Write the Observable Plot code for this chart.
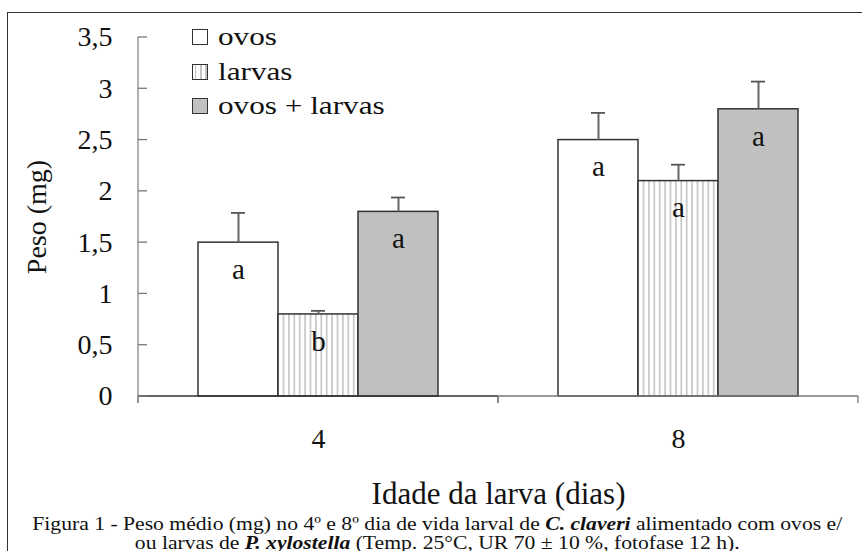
<!DOCTYPE html>
<html>
<head>
<meta charset="utf-8">
<script src="https://cdn.jsdelivr.net/npm/d3@7"></script>
<script src="https://cdn.jsdelivr.net/npm/@observablehq/plot@0.6"></script>
<style>
  html, body { margin: 0; padding: 0; background: #fff; }
  body { width: 862px; height: 551px; position: relative; overflow: hidden; font-family: "Times New Roman", serif; }
  #chart { position: absolute; left: 0; top: 0; }
  #border { position: absolute; left: 7px; top: 12px; width: 870px; height: 560px; border-top: 1.6px solid #333; border-left: 1.6px solid #333; pointer-events: none; }
  #legend { position: absolute; left: 192px; top: 20px; font-family: "Times New Roman", serif; font-size: 26px; color: #111; }
  #legend .row { display: flex; align-items: center; height: 34.5px; white-space: nowrap; }
  #legend .lab { display: inline-block; transform: scaleX(1.2); transform-origin: left center; }
  #legend .sw { width: 14px; height: 14px; border: 1.5px solid #333; margin-right: 10px; box-sizing: content-box; }
  #caption { position: absolute; left: 8px; width: 860px; top: 514px; text-align: center; font-family: "Times New Roman", serif; font-size: 19.5px; line-height: 19px; color: #111; transform: scaleX(1.11); transform-origin: 437px 0; }
</style>
</head>
<body>
<svg width="0" height="0" style="position:absolute">
  <defs>
    <pattern id="hatch" patternUnits="userSpaceOnUse" width="5.4" height="10">
      <rect width="5.4" height="10" fill="#ffffff"></rect>
      <line x1="2.7" y1="0" x2="2.7" y2="10" stroke="#c4c4c4" stroke-width="1.6"></line>
    </pattern>
  </defs>
</svg>
<div id="chart"></div>
<div id="legend"></div>
<div id="border"></div>
<div id="caption">Figura 1 - Peso médio (mg) no 4º e 8º dia de vida larval de <b><i>C. claveri</i></b> alimentado com ovos e/<br>ou larvas de <b><i>P. xylostella</i></b> (Temp. 25°C, UR 70 ± 10 %, fotofase 12 h).</div>
<script>
// ---- data ----
const days = ["4", "8"];
const treatments = ["ovos", "larvas", "ovos + larvas"];
const means4 = [1.5, 0.8, 1.8];
const means8 = [2.5, 2.1, 2.8];
const errs4 = [0.29, 0.035, 0.14];
const errs8 = [0.265, 0.16, 0.27];
const letters4 = ["a", "b", "a"];
const letters8 = ["a", "a", "a"];
const yTicks = [0, 0.5, 1, 1.5, 2, 2.5, 3, 3.5];
const yLabel = "Peso (mg)";
const xLabel = "Idade da larva (dias)";
const fills = ["#ffffff", "url(#hatch)", "#c0c0c0"];

const rows = [];
[[days[0], means4, errs4, letters4], [days[1], means8, errs8, letters8]].forEach(([day, m, e, l]) => {
  treatments.forEach((t, i) => rows.push({day, treatment: t, mean: m[i], err: e[i], letter: l[i]}));
});

const fmt = d => String(d).replace(".", ",");
const serif = "Times New Roman, serif";

// custom decorations: axis lines and ticks derived from scales/dimensions
function axisDecor(index, scales, values, dims) {
  const g = d3.create("svg:g").attr("fill", "none");
  const x0 = dims.marginLeft, x1 = dims.width - dims.marginRight;
  const y0 = scales.y(0);
  g.append("line").attr("x1", x0).attr("x2", x1).attr("y1", y0).attr("y2", y0)
    .attr("stroke", index[0] === 0 ? "#333" : "#777").attr("stroke-width", 1.3);
  [x0, x1].forEach(x => g.append("line").attr("x1", x).attr("x2", x).attr("y1", y0).attr("y2", y0 + 7)
    .attr("stroke", "#777").attr("stroke-width", 1.3));
  if (index[0] === 0) {
    const yTop = scales.y(yTicks[yTicks.length - 1]);
    g.append("line").attr("x1", x0).attr("x2", x0).attr("y1", yTop).attr("y2", y0 + 7)
      .attr("stroke", "#888").attr("stroke-width", 1.3);
    yTicks.forEach(v => {
      const y = scales.y(v);
      g.append("line").attr("x1", x0).attr("x2", x0 + 9).attr("y1", y).attr("y2", y)
        .attr("stroke", "#777").attr("stroke-width", 1.3);
    });
  }
  return g.node();
}

const chart = Plot.plot({
  width: 862,
  height: 530,
  marginLeft: 138,
  marginRight: 4,
  marginTop: 37,
  marginBottom: 134,
  style: {fontFamily: serif, color: "#111", background: "transparent"},
  fx: {domain: days, padding: 0, label: null},
  x: {domain: treatments, paddingInner: 0, paddingOuter: 0.75, axis: null},
  y: {domain: [0, 3.5], ticks: yTicks, axis: null},
  color: {domain: treatments, range: fills},
  marks: [
    Plot.axisY({anchor: "left", ticks: yTicks, tickSize: 0, tickPadding: 26, tickFormat: fmt, fontSize: 28, fontFamily: serif,
      label: yLabel, labelAnchor: "center", labelOffset: 112, labelArrow: "none"}),
    Plot.axisFx({anchor: "bottom", tickSize: 0, tickPadding: 32, fontSize: 28, fontFamily: serif, label: null}),
    Plot.axisFx({anchor: "bottom", ticks: [], tickSize: 0, fontSize: 31, fontFamily: serif, label: xLabel, labelAnchor: "center", labelOffset: 107, labelArrow: "none"}),
    Plot.barY(rows, {fx: "day", x: "treatment", y: "mean", fill: "treatment", stroke: "#333", strokeWidth: 1.5}),
    Plot.ruleX(rows, {fx: "day", x: "treatment", y1: "mean", y2: d => d.mean + d.err, stroke: "#666", strokeWidth: 2}),
    Plot.tickY(rows, {fx: "day", x: "treatment", y: d => d.mean + d.err, stroke: "#555", strokeWidth: 1.8, insetLeft: 33, insetRight: 33}),
    Plot.text(rows, {fx: "day", x: "treatment", y: "mean", text: "letter", dy: 27, fontSize: 29, fontFamily: serif, fill: "#111"}),
    Plot.ruleY(days, {fx: d => d, y: () => 0, render: axisDecor})
  ]
});
document.getElementById("chart").appendChild(chart);

// legend (HTML, placed over the plot area)
const legend = document.getElementById("legend");
treatments.forEach((t, i) => {
  const row = document.createElement("div");
  row.className = "row";
  const sw = document.createElement("span");
  sw.className = "sw";
  if (i === 1) sw.style.background = "repeating-linear-gradient(90deg, #fff 0 1.8px, #c4c4c4 1.8px 3.4px, #fff 3.4px 5.2px)";
  else sw.style.background = fills[i];
  const lab = document.createElement("span");
  lab.className = "lab";
  lab.textContent = t;
  row.appendChild(sw);
  row.appendChild(lab);
  legend.appendChild(row);
});
</script>
</body>
</html>
